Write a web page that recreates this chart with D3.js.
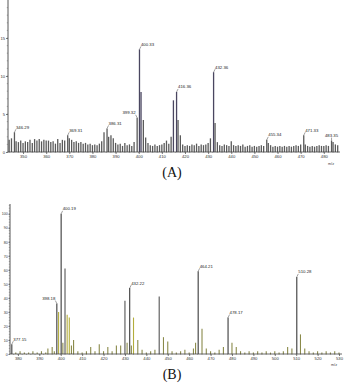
<!DOCTYPE html>
<html><head><meta charset="utf-8">
<script src="https://cdnjs.cloudflare.com/ajax/libs/d3/7.8.5/d3.min.js"></script>
<style>
html,body{margin:0;padding:0;background:#fff;}
svg{display:block;}
</style></head>
<body>
<svg id="c" width="344" height="384"></svg>
<script>
// ---- Panel A data ----
const mzA = [344,345,346.29,347,348,349,350,351,352,353,354,355,356,357,358,359,360,361,362,363,364,365,366,367,368,369.31,370,371,372,373,374,375,376,377,378,379,380,381,382,383,384,385,386.31,387,388,389,390,391,392,393,394,395,396,397,398,399.32,400.33,401,402,403,404,405,406,407,408,409,410,411,412,413,414,415,416.36,417,418,419,420,421,422,423,424,425,426,427,428,429,430,431,432.36,433,434,435,436,437,438,439,440,441,442,443,444,445,446,447,448,449,450,451,452,453,454,455.34,456,457,458,459,460,461,462,463,464,465,466,467,468,469,470,471.33,472,473,474,475,476,477,478,479,480,481,482,483.35,484,485,486];
const intA = [1.6,1.8,2.6,1.4,1.3,1.5,1.2,1.4,1.3,1.6,1.2,1.7,1.5,1.7,1.4,1.6,1.5,1.5,1.3,1.4,1.1,1.7,1.2,1.6,1.5,2.2,1.8,1.6,1.3,1.4,1.2,1.3,1.1,1.2,1.0,1.1,0.9,1.0,0.9,1.1,1.4,2.6,3.1,2.0,2.2,1.8,1.2,1.0,1.1,0.8,1.2,0.9,1.0,0.8,1.3,4.5,13.5,7.9,4.2,1.9,1.2,0.9,0.8,1.0,0.8,0.9,1.0,1.2,1.5,1.1,2.0,6.8,7.9,4.2,2.2,1.0,0.8,0.9,0.8,1.0,0.9,1.1,0.8,1.0,0.9,1.0,1.2,1.8,10.5,3.8,1.3,0.9,0.8,1.0,0.9,0.8,1.4,0.9,0.8,0.9,0.8,1.0,0.7,0.8,0.9,0.7,0.8,0.7,0.8,0.9,0.8,1.6,1.2,0.9,0.7,0.8,0.7,0.8,0.7,0.8,0.7,0.8,0.7,0.8,0.9,0.8,1.0,2.2,1.0,0.8,0.7,0.8,0.7,0.8,0.9,0.8,0.8,0.9,0.8,1.5,1.3,1.0,0.9];
const labelsA = ["346.29","369.31","386.31","399.32","400.33","416.36","432.36","455.34","471.33","483.35"];
const ticksXA = [350,360,370,380,390,400,410,420,430,440,450,460,470,480];
const ticksYA = [0,5,10,15];

// ---- Panel B data ----
const mzB = [377.15,379,381,383,385,387,389,391,393,394,396,397,398.18,399,400.19,401,402,403,404,405,406,408,410,412,414,416,418,420,422,424,426,428,430,431,432.22,433,434,436,438,440,442,444,446,448,450,452,454,456,458,460,462,463,464.21,466,468,470,472,474,476,478.17,480,482,484,486,488,490,492,494,496,498,500,502,504,506,508,510.28,512,514,516,518,520,522,524,526,528,530];
const intB = [7,1,2,1,1,2,1,2,1,4,5,2,36,30,100,8,61,28,26,6,10,2,1,2,5,2,7,2,5,2,6,6,38,8,47,6,26,10,3,1,2,3,41,12,9,2,1,2,3,1,4,8,59,18,4,2,1,3,5,26,8,5,2,1,2,1,2,1,2,1,2,1,2,5,4,55,14,4,2,1,2,1,2,1,2,1];
const labelsB = ["377.15","398.18","400.19","432.22","464.21","478.17","510.28"];
const ticksXB = [380,390,400,410,420,430,440,450,460,470,480,490,500,510,520,530];
const ticksYB = [0,10,20,30,40,50,60,70,80,90,100];

const svg = d3.select("#c");
const FONT = "Liberation Sans, Arial, sans-serif";

function panel(o){
  const g = svg.append("g");
  const x = d3.scaleLinear().domain(o.xd).range(o.xr);
  const y = d3.scaleLinear().domain(o.yd).range(o.yr);
  const data = o.mz.map((m,i)=>({mz:m, v:o.int[i], lab:o.labels.find(l=>+l===m)}));
  g.selectAll("line.bar").data(data).enter().append("line")
    .attr("x1",d=>x(d.mz)).attr("x2",d=>x(d.mz))
    .attr("y1",y(0)).attr("y2",d=>y(d.v))
    .attr("stroke",d=>o.color(d)).attr("stroke-width",o.bw);
  const ax = d3.axisBottom(x).tickValues(o.tx).tickSize(2).tickSizeOuter(0).tickFormat(d3.format("d"));
  const gx = g.append("g").attr("transform",`translate(0,${y(0)})`).call(ax);
  gx.select(".domain").attr("stroke","#444").attr("stroke-width",0.8).attr("d",`M${o.xr[0]},0H${o.xr[1]}`);
  gx.selectAll(".tick line").attr("stroke","#444").attr("stroke-width",0.7);
  gx.selectAll(".tick text").attr("font-size",4.2).attr("font-family",FONT).attr("fill","#333").attr("dy","0.3em");
  const minorX = d3.range(Math.ceil(o.xd[0]/2)*2, o.xd[1], 2);
  g.selectAll("line.mx").data(minorX).enter().append("line")
    .attr("x1",d=>x(d)).attr("x2",d=>x(d)).attr("y1",y(0)).attr("y2",y(0)+1)
    .attr("stroke","#666").attr("stroke-width",0.5);
  const ay = d3.axisLeft(y).tickValues(o.ty).tickSize(o.yts).tickPadding(0.8).tickSizeOuter(0);
  const gy = g.append("g").attr("transform",`translate(${o.xr[0]},0)`).call(ay);
  gy.select(".domain").attr("stroke","#444").attr("stroke-width",0.9).attr("d",`M0,${o.yr[0]}V${o.yr[1]}`);
  gy.selectAll(".tick line").attr("stroke","#444").attr("stroke-width",0.7);
  gy.selectAll(".tick text").attr("font-size",o.yfs).attr("font-family",FONT).attr("fill","#333");
  const minorY = d3.range(o.yd[0], o.yd[1], o.ym);
  g.selectAll("line.my").data(minorY).enter().append("line")
    .attr("x1",o.xr[0]-1.2).attr("x2",o.xr[0]).attr("y1",d=>y(d)).attr("y2",d=>y(d))
    .attr("stroke","#666").attr("stroke-width",0.5);
  data.filter(d=>d.lab).forEach(d=>{
    const px = x(d.mz), py = y(d.v);
    const left = o.leftLabels.includes(d.lab);
    const mid = o.midLabels.includes(d.lab);
    const dx = left ? -1.5 : (mid ? 0 : 1.5);
    g.append("line").attr("x1",px).attr("y1",py).attr("x2",px+dx).attr("y2",py-3)
      .attr("stroke","#444").attr("stroke-width",0.5);
    g.append("text").attr("x",px+dx).attr("y",py-3.5).attr("text-anchor",left?"end":(mid?"middle":"start"))
      .attr("font-size",4.3).attr("font-family",FONT).attr("fill","#222").text(d.lab);
  });
  g.append("text").attr("x",o.mzPos[0]).attr("y",o.mzPos[1]).attr("font-size",3.8)
    .attr("font-family",FONT).attr("fill","#444").attr("text-anchor","middle").text("m/z");
  g.append("text").attr("x",o.pl[0]).attr("y",o.pl[1]).attr("text-anchor","middle")
    .attr("font-size",14).attr("font-family","Liberation Serif, Times New Roman, serif")
    .attr("fill","#111").text(o.plText);
}

panel({mz:mzA,int:intA,labels:labelsA,tx:ticksXA,ty:ticksYA,
  xd:[343.5,487],xr:[8,340],yd:[0,20],yr:[152,0],ym:1,bw:1.3,yts:2,yfs:4.2,
  color:d=>d.v>5?"#4a4660":"#5a5a5a",
  leftLabels:["399.32"], midLabels:["483.35"], mzPos:[331,165], pl:[172,177], plText:"(A)"});

panel({mz:mzB,int:intB,labels:labelsB,tx:ticksXB,ty:ticksYB,
  xd:[376.3,531.4],xr:[10,342],yd:[0,107],yr:[354,204],ym:2,bw:1.1,yts:1.5,yfs:3.6,
  color:d=>d.lab?"#3a3a3a":(d.v>=35?"#555":(d.v>=20?"#b3ad3c":"#8a8a4a")),
  leftLabels:["398.18"], midLabels:[], mzPos:[334,366], pl:[172,379], plText:"(B)"});
</script>
</body></html>
